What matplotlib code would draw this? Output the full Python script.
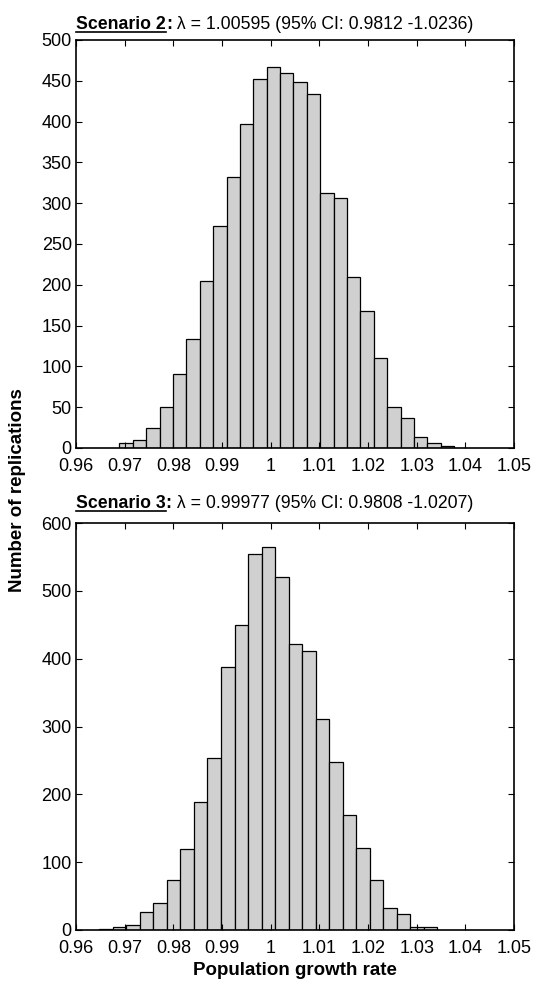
import matplotlib
matplotlib.use("Agg")
import matplotlib.pyplot as plt
from matplotlib.lines import Line2D
from matplotlib.ticker import FormatStrFormatter, MultipleLocator
import numpy as np

plt.rcParams['font.family'] = ['Liberation Sans', 'DejaVu Sans']

# scenario 2 histogram
s2_bin_start = 0.96893
s2_bin_width = 0.00275
s2_counts = [6, 10, 25, 50, 91, 134, 205, 272, 332, 397, 452, 467, 460,
             449, 434, 313, 306, 209, 168, 110, 50, 37, 13, 6, 3]
s2_label = "Scenario 2"
s2_text = " \u03bb = 1.00595 (95% CI: 0.9812 -1.0236)"

# scenario 3 histogram
s3_bin_start = 0.96478
s3_bin_width = 0.00278
s3_counts = [2, 5, 7, 27, 40, 73, 120, 188, 253, 388, 450, 554, 564,
             521, 421, 412, 311, 248, 170, 121, 73, 33, 23, 5, 4]
s3_label = "Scenario 3"
s3_text = " \u03bb = 0.99977 (95% CI: 0.9808 -1.0207)"

x_ticks = [0.96, 0.97, 0.98, 0.99, 1.0, 1.01, 1.02, 1.03, 1.04, 1.05]

W, H = 534, 981
fig = plt.figure(figsize=(W / 100, H / 100), dpi=100)


def px_axes(left, top, right, bottom):
    return fig.add_axes([left / W, 1 - bottom / H, (right - left) / W, (bottom - top) / H])


def draw_hist(ax, start, width, counts, ymax, ystep):
    edges = start + width * np.arange(len(counts))
    ax.bar(edges, counts, width=width, align='edge', color='#d0d0d0',
           edgecolor='black', linewidth=0.9)
    ax.set_xlim(0.96, 1.05)
    ax.set_ylim(0, ymax)
    ax.set_xticks(x_ticks)
    ax.xaxis.set_major_formatter(FormatStrFormatter('%g'))
    ax.yaxis.set_major_locator(MultipleLocator(ystep))
    ax.tick_params(direction='in', top=True, right=True, length=4,
                   width=0.8, labelsize=13)
    ax.tick_params(axis='x', pad=7)
    ax.tick_params(axis='y', pad=3)
    for s in ax.spines.values():
        s.set_linewidth(1.2)


def draw_title(ax, label, text, baseline_px):
    r = fig.canvas.get_renderer()
    x0 = ax.get_position().x0
    y = 1 - baseline_px / H
    t1 = fig.text(x0, y, label, fontsize=12.7, fontweight='bold', va='baseline', ha='left')
    bb1 = t1.get_window_extent(r)
    t2 = fig.text(bb1.x1 / W, y, ":", fontsize=12.7, fontweight='bold', va='baseline', ha='left')
    bb2 = t2.get_window_extent(r)
    fig.text(bb2.x1 / W, y, text, fontsize=12.7, va='baseline', ha='left')
    uy = y - 2.5 / H
    fig.add_artist(Line2D([bb1.x0 / W, bb1.x1 / W], [uy, uy], color='black',
                          linewidth=1.2, transform=fig.transFigure))


ax1 = px_axes(76, 40, 514, 448)
draw_hist(ax1, s2_bin_start, s2_bin_width, s2_counts, 500, 50)

ax2 = px_axes(76, 523, 514, 930)
draw_hist(ax2, s3_bin_start, s3_bin_width, s3_counts, 600, 100)
ax2.set_xlabel("Population growth rate", fontsize=13.5, fontweight='bold', labelpad=4)

fig.text(18 / W, 1 - 490 / H, "Number of replications", rotation=90,
         fontsize=13.5, fontweight='bold', ha='center', va='center')

draw_title(ax1, s2_label, s2_text, 29)
draw_title(ax2, s3_label, s3_text, 508)

fig.savefig("out.png", dpi=100)
